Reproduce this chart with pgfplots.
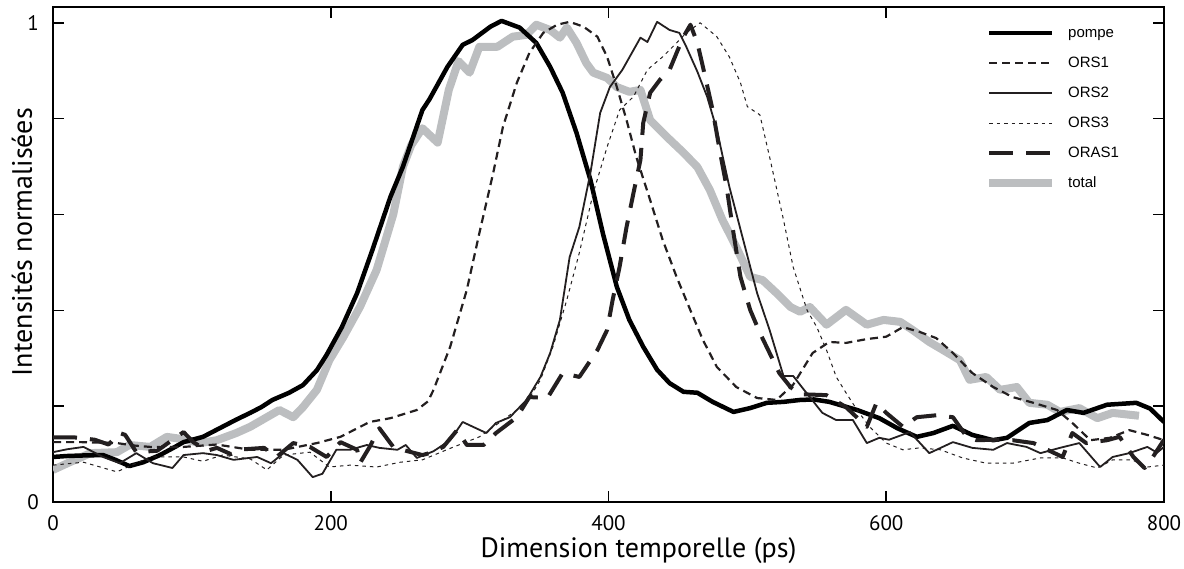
\documentclass[border=0pt]{standalone}
\usepackage{pgfplots}
\pgfplotsset{compat=1.18}
\usepackage{fontspec}
\setmainfont{PT Sans}
\newfontfamily\legendfont{Liberation Sans}
\definecolor{totgray}{RGB}{188,190,192}
\definecolor{ink}{RGB}{35,31,32}

\begin{document}
\begin{tikzpicture}
\begin{axis}[
  name=ax,
  scale only axis, width=1111bp, height=495bp,
  xmin=0, xmax=800, ymin=0, ymax=1.033,
  xtick={0,200,400,600,800},
  ytick={0,0.2,0.4,0.6,0.8,1},
  yticklabels={0,,,,,1},
  /pgf/number format/assume math mode=true,
  major tick length=11bp,
  tick style={line width=1.6bp, black},
  axis line style={line width=2bp},
  ticklabel style={font=\fontsize{21bp}{24bp}\selectfont},
  xticklabel style={inner sep=0pt, yshift=-13bp},
  yticklabel style={inner sep=0pt, xshift=-14bp},
  xlabel={Dimension temporelle (ps)},
  ylabel={Intensités normalisées},
  label style={font=\fontsize{28bp}{33bp}\selectfont},
  xlabel style={at={(axis description cs:0.527,-0.113)}, anchor=base},
  ylabel style={at={(axis description cs:-0.0189,0.525)}, anchor=base, rotate=0},
  legend image code/.code={\draw[#1] (0bp,0bp) -- (63bp,0bp); \path (75bp,0bp);},
  legend cell align=left,
  legend style={at={(axis description cs:0.8389,0.962)}, anchor=north west,
    draw=none, fill=none, inner sep=0pt,
    font=\legendfont\fontsize{15bp}{17bp}\selectfont,
    nodes={inner sep=0pt, text height=11bp, text depth=3bp},
    row sep=16bp},
  every axis plot/.append style={line join=round, line cap=butt},
]
% total drawn first, beneath
\addplot[totgray, line width=8bp, forget plot] table {
x y
0 0.067
12 0.083
27 0.102
46 0.104
55 0.119
70 0.115
82 0.136
94 0.131
106 0.123
118 0.129
132 0.144
142 0.157
154 0.177
163 0.192
173 0.177
180 0.198
190 0.234
199 0.296
209 0.344
221 0.407
233 0.484
245 0.600
252 0.700
258 0.745
266 0.780
277 0.750
285 0.860
292 0.920
300 0.896
307 0.950
320 0.950
331 0.971
341 0.975
348 0.996
358 0.985
365 0.969
370 0.990
377 0.958
384 0.916
389 0.896
399 0.885
406 0.866
415 0.856
423 0.860
430 0.797
442 0.762
454 0.729
464 0.699
473 0.651
482 0.589
492 0.532
502 0.470
511 0.463
521 0.436
531 0.407
538 0.397
545 0.407
557 0.370
571 0.401
586 0.370
598 0.380
610 0.376
619 0.359
631 0.334
641 0.317
653 0.296
660 0.255
672 0.261
682 0.234
694 0.240
703 0.207
716 0.203
725 0.188
739 0.196
752 0.175
763 0.186
782 0.180
};
% pompe
\addplot[black, line width=4.5bp] table {
x y
0 0.094
10 0.096
20 0.097
36 0.098
45 0.088
55 0.075
65 0.083
77 0.098
86 0.112
94 0.125
108 0.136
122 0.157
132 0.172
142 0.186
150 0.198
158 0.213
170 0.228
180 0.244
190 0.275
197 0.307
208 0.365
219 0.436
230 0.526
243 0.637
252 0.700
266 0.818
271 0.840
284 0.908
295 0.954
302 0.964
315 0.992
323 1.004
336 0.990
348 0.958
358 0.908
367 0.854
377 0.770
387 0.672
396 0.560
406 0.449
415 0.380
425 0.324
435 0.276
444 0.248
454 0.230
464 0.228
475 0.209
490 0.188
502 0.196
514 0.207
526 0.209
538 0.213
548 0.214
559 0.209
579 0.192
595 0.175
608 0.154
622 0.136
634 0.144
648 0.159
662 0.140
677 0.129
687 0.134
703 0.165
716 0.171
730 0.192
742 0.186
759 0.203
780 0.207
790 0.195
800 0.167
};
\addlegendentry{pompe}
% ORS1
\addplot[ink, line width=2.2bp, dash pattern=on 8bp off 5bp] table {
x y
0 0.125
20 0.125
46 0.123
58 0.118
70 0.115
94 0.115
118 0.120
142 0.109
166 0.109
190 0.123
207 0.136
228 0.167
243 0.175
262 0.192
270 0.210
274 0.234
286 0.324
298 0.443
307 0.561
317 0.687
324 0.783
334 0.875
343 0.937
353 0.979
363 0.996
372 1.002
382 0.992
392 0.971
399 0.929
406 0.866
413 0.797
420 0.720
430 0.630
439 0.547
449 0.470
459 0.400
468 0.338
478 0.282
492 0.240
507 0.217
521 0.213
533 0.245
547 0.311
559 0.334
571 0.332
586 0.340
600 0.345
612 0.365
624 0.355
636 0.342
648 0.311
662 0.269
677 0.240
691 0.219
706 0.207
723 0.192
734 0.165
747 0.129
761 0.134
775 0.150
788 0.140
800 0.129
};
\addlegendentry{ORS1}
% ORS2
\addplot[ink, line width=1.8bp] table {
x y
0 0.104
10 0.110
22 0.115
36 0.094
48 0.081
60 0.102
72 0.081
86 0.071
94 0.098
108 0.102
118 0.098
130 0.088
147 0.094
157 0.081
166 0.102
176 0.088
187 0.052
194 0.059
204 0.109
214 0.109
226 0.119
235 0.113
248 0.109
254 0.119
262 0.092
274 0.106
286 0.129
295 0.167
312 0.144
319 0.165
329 0.177
341 0.213
351 0.261
358 0.311
365 0.380
372 0.511
379 0.574
387 0.687
394 0.812
401 0.866
410 0.902
423 0.969
428 0.960
435 1.002
444 0.985
451 0.979
456 0.950
464 0.898
471 0.846
478 0.777
487 0.658
497 0.547
507 0.436
516 0.359
526 0.263
533 0.263
540 0.237
554 0.186
564 0.171
576 0.171
586 0.123
595 0.134
602 0.130
617 0.146
631 0.102
648 0.125
662 0.113
677 0.109
687 0.123
701 0.115
711 0.102
725 0.113
739 0.123
754 0.073
763 0.094
775 0.102
788 0.115
795 0.103
800 0.115
};
\addlegendentry{ORS2}
% ORS3
\addplot[ink, line width=1bp, dash pattern=on 3.5bp off 4bp] table {
x y
0 0.077
22 0.083
46 0.063
70 0.094
94 0.094
108 0.085
122 0.098
142 0.090
154 0.067
166 0.098
185 0.104
199 0.073
214 0.077
233 0.073
250 0.083
266 0.088
286 0.112
307 0.136
324 0.171
341 0.207
351 0.255
360 0.324
370 0.422
379 0.520
389 0.645
399 0.741
408 0.818
418 0.846
428 0.902
439 0.929
449 0.958
456 0.979
466 1.000
478 0.971
487 0.929
495 0.875
500 0.825
509 0.808
516 0.720
526 0.589
533 0.490
543 0.400
550 0.365
557 0.317
564 0.261
571 0.228
579 0.192
588 0.157
600 0.123
612 0.109
624 0.113
639 0.109
655 0.092
672 0.081
691 0.081
711 0.092
727 0.092
739 0.081
752 0.071
763 0.088
777 0.088
788 0.073
800 0.077
};
\addlegendentry{ORS3}
% ORAS1
\addplot[ink, line width=4bp, dash pattern=on 24bp off 13bp] table {
x y
0 0.135
15 0.135
30 0.130
40 0.120
48 0.144
52 0.140
60 0.104
75 0.107
94 0.146
101 0.125
111 0.107
118 0.113
128 0.100
137 0.110
152 0.113
161 0.094
173 0.123
185 0.115
197 0.094
207 0.125
219 0.109
221 0.081
228 0.115
235 0.154
245 0.115
254 0.107
266 0.098
271 0.102
281 0.115
291 0.150
298 0.119
310 0.119
319 0.144
334 0.177
343 0.219
356 0.217
367 0.269
379 0.261
392 0.317
399 0.359
403 0.422
408 0.491
413 0.574
418 0.645
423 0.714
425 0.791
430 0.854
437 0.881
444 0.902
450 0.944
454 0.971
459 0.996
464 0.958
468 0.908
475 0.818
480 0.735
485 0.658
490 0.561
495 0.470
502 0.401
509 0.353
516 0.311
523 0.269
531 0.240
538 0.225
557 0.223
571 0.198
586 0.157
593 0.207
600 0.186
612 0.157
622 0.177
636 0.181
648 0.177
658 0.136
665 0.129
679 0.130
691 0.129
706 0.123
716 0.109
727 0.094
734 0.144
744 0.123
759 0.129
768 0.136
778 0.094
786 0.071
792 0.094
800 0.130
};
\addlegendentry{ORAS1}
\addlegendimage{totgray, line width=8bp}
\addlegendentry{total}
\end{axis}
\pgfresetboundingbox
\path[use as bounding box] ([shift={(-53bp,-66bp)}]ax.south west) rectangle ([shift={(20bp,7bp)}]ax.north east);
\end{tikzpicture}
\end{document}
